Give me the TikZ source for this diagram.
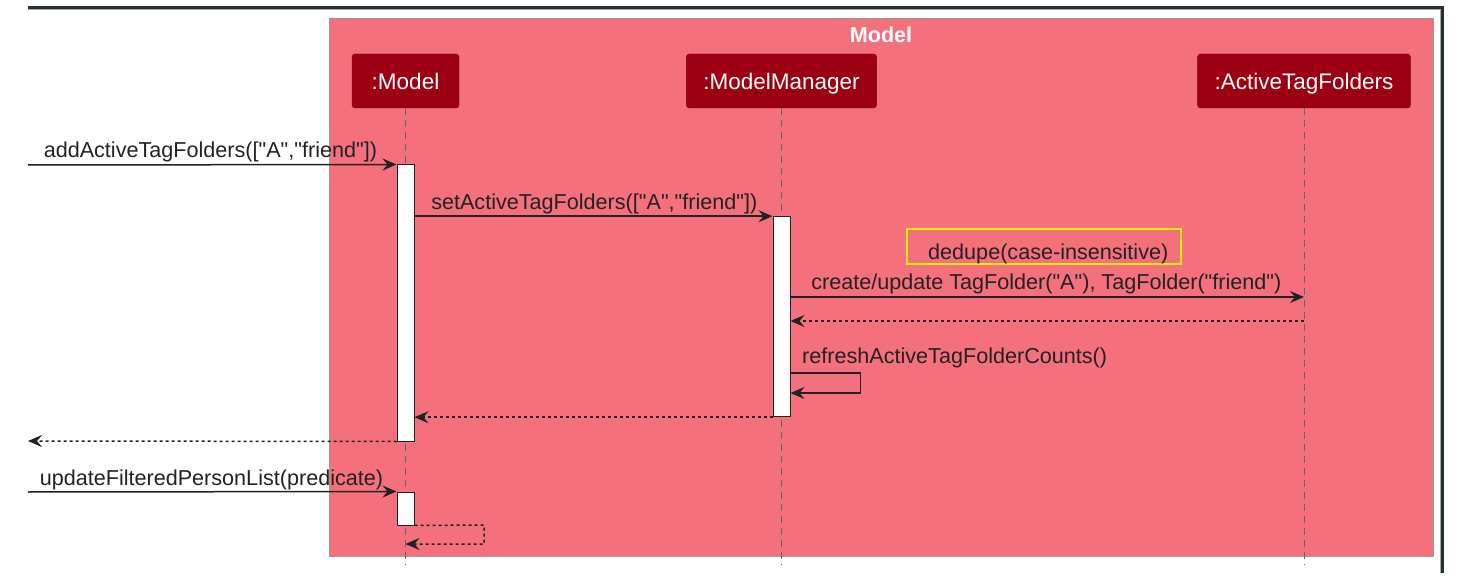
\documentclass[tikz,border=0pt]{standalone}
\usepackage{fontspec}
\newfontfamily\diagfont{Liberation Sans}
\usetikzlibrary{arrows.meta, positioning, calc}
\usepackage{xcolor}

\definecolor{boxpink}{HTML}{F4707D}
\definecolor{partred}{HTML}{9C0012}
\definecolor{inkdark}{HTML}{222222}
\definecolor{framedark}{HTML}{263030}

\tikzset{
  participant/.style={rectangle, rounded corners=3pt, fill=partred, draw=partred!80!black,
    text=white, font=\diagfont\fontsize{22.5}{26}\selectfont, minimum height=54pt, inner xsep=17pt,
    text height=20pt, text depth=2.6pt},
  activation/.style={rectangle, fill=white, draw=inkdark, line width=1pt, minimum width=17pt, inner sep=0pt},
  lifeline/.style={draw=black!60, line width=1pt, dash pattern=on 7pt off 5pt},
  msg/.style={draw=inkdark, line width=1.5pt, -{Stealth[length=14pt, width=12pt, inset=5pt]}},
  ret/.style={msg, dash pattern=on 3pt off 3pt},
  msglabel/.style={text=inkdark, font=\diagfont\fontsize{21.6}{25}\selectfont, anchor=base west, inner sep=0pt}
}

\begin{document}
\begin{tikzpicture}[x=1pt, y=-1pt]
  \useasboundingbox (0,0) rectangle (1473,588);

  % screenshot frame
  \draw[black!35, line width=1pt] (28,10) -- (1440,10) -- (1440,573);
  \draw[framedark, line width=3pt] (28,7.5) -- (1442,7.5) -- (1442,573);

  % group box
  \draw[fill=boxpink, draw=black!40, line width=1pt] (329,19) rectangle (1433,556);
  \node[text=white, font=\diagfont\bfseries\fontsize{21.6}{25}\selectfont] (groupTitle) at (881,35) {Model};

  % participants
  \node[participant, minimum width=107pt] (model) at (405.5,81) {:Model};
  \node[participant] (manager) at (781.5,81) {:ModelManager};
  \node[participant] (folders) at (1304,81) {:ActiveTagFolders};

  \draw[lifeline] (model.south) -- (model.south |- 0,565);
  \draw[lifeline] (manager.south) -- (manager.south |- 0,565);
  \draw[lifeline] (folders.south) -- (folders.south |- 0,565);

  % activations
  \node[activation, minimum height=276pt] (modelAct) at (405.5,303) {};
  \node[activation, minimum height=200pt] (managerAct) at (781.5,316.7) {};
  \node[activation, minimum height=33pt] (modelAct2) at (405.5,508.5) {};

  \coordinate (callerIn) at (28,165);
  \coordinate (callerBack) at (28,441);
  \coordinate (callerIn2) at (28,492);

  % messages
  \draw[msg] (callerIn) -- (modelAct.north west)
    node[msglabel, at start, xshift=15pt, yshift=7pt] {addActiveTagFolders(["A","friend"])};
  \draw[msg] (modelAct.east |- managerAct.north) -- (managerAct.north west)
    node[msglabel, at start, xshift=16pt, yshift=7pt] {setActiveTagFolders(["A","friend"])};

  \draw[yellow, line width=2pt] (907,229) rectangle (1181,264);
  \node[msglabel] (dedupe) at (928,260) {dedupe(case-insensitive)};

  \draw[msg] (managerAct.east |- 0,297) -- (folders.south |- 0,297)
    node[msglabel, at start, xshift=20pt, yshift=7pt] {create/update TagFolder("A"), TagFolder("friend")};
  \draw[ret] (folders.south |- 0,321) -- (managerAct.east |- 0,321);

  \draw[msg] (managerAct.east |- 0,373) -- ++(70,0) -- ++(0,20) -- (managerAct.east |- 0,393);
  \node[msglabel] (refresh) at (802,363) {refreshActiveTagFolderCounts()};

  \draw[ret] (managerAct.south west) -- (modelAct.east |- managerAct.south);
  \draw[ret] (modelAct.south west) -- (callerBack);

  \draw[msg] (callerIn2) -- (modelAct2.north west)
    node[msglabel, at start, xshift=11pt, yshift=7pt] {updateFilteredPersonList(predicate)};
  \draw[ret] (modelAct2.south east) -- (484,525) -- (484,544) -- (model.south |- 0,544);
\end{tikzpicture}
\end{document}
